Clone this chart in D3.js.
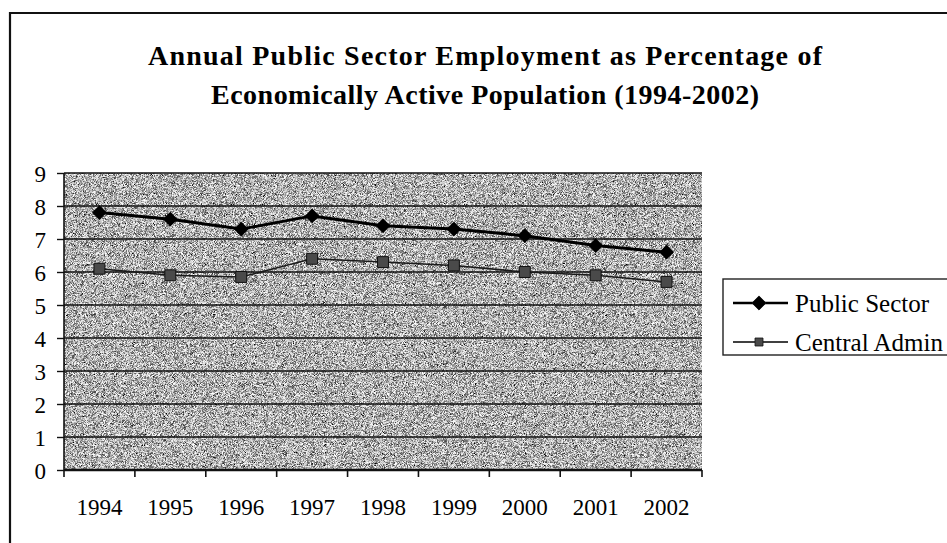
<!DOCTYPE html>
<html>
<head>
<meta charset="utf-8">
<script src="https://cdn.jsdelivr.net/npm/d3@7"></script>
<style>
  body { margin: 0; background: #fff; }
  svg text { font-family: "Liberation Serif", "Times New Roman", serif; fill: #000; }
</style>
</head>
<body>
<div id="chartDiv"></div>
<script>
// data
var years = ["1994", "1995", "1996", "1997", "1998", "1999", "2000", "2001", "2002"];
var publicSector = [7.8, 7.6, 7.3, 7.7, 7.4, 7.3, 7.1, 6.8, 6.6];
var centralAdmin = [6.1, 5.9, 5.85, 6.4, 6.3, 6.2, 6.0, 5.9, 5.7];
var yTicks = [0, 1, 2, 3, 4, 5, 6, 7, 8, 9];
var seriesNames = ["Public Sector", "Central Admin"];
var titleLines = ["Annual Public Sector Employment as Percentage of",
                  "Economically Active Population (1994-2002)"];

var W = 947, H = 543;
var plot = {left: 64, right: 702, top: 173, bottom: 470};

var svg = d3.select("#chartDiv").append("svg")
    .attr("width", W)
    .attr("height", H);

// speckle texture for the grey plot area
var defs = svg.append("defs");
var f = defs.append("filter").attr("id", "grain")
    .attr("x", 0).attr("y", 0).attr("width", 1).attr("height", 1);
f.append("feTurbulence")
    .attr("type", "fractalNoise")
    .attr("baseFrequency", 1.9)
    .attr("numOctaves", 1)
    .attr("seed", 5)
    .attr("result", "noise");
f.append("feColorMatrix")
    .attr("in", "noise")
    .attr("type", "matrix")
    .attr("values", "0 0 0 0 1  0 0 0 0 1  0 0 0 0 1  -3.2 0 0 0 1.85")
    .attr("result", "light");
f.append("feColorMatrix")
    .attr("in", "noise")
    .attr("type", "matrix")
    .attr("values", "0 0 0 0 0  0 0 0 0 0  0 0 0 0 0  3.2 0 0 0 -1.45")
    .attr("result", "dark");
f.append("feMerge").call(function(m) {
    m.append("feMergeNode").attr("in", "SourceGraphic");
    m.append("feMergeNode").attr("in", "light");
    m.append("feMergeNode").attr("in", "dark");
}).attr("result", "all");
f.append("feComposite").attr("in", "all").attr("in2", "SourceGraphic").attr("operator", "in");

// outer frame (top and left edges visible in the scan)
svg.append("path")
    .attr("d", "M10," + H + "V13H" + W)
    .attr("fill", "none")
    .attr("stroke", "#111")
    .attr("stroke-width", 2.2);

// title
var titleW = [674, 548];
svg.append("g").selectAll("text")
    .data(titleLines)
    .enter().append("text")
    .attr("x", 485)
    .attr("y", function(d, i) { return 65 + i * 39; })
    .attr("text-anchor", "middle")
    .attr("textLength", function(d, i) { return titleW[i]; })
    .attr("lengthAdjust", "spacing")
    .style("font-size", "28px")
    .style("font-weight", "bold")
    .text(function(d) { return d; });

var x = d3.scaleBand().domain(years).range([plot.left, plot.right]);
var y = d3.scaleLinear().domain([0, 9]).range([plot.bottom, plot.top]);

// plot background
svg.append("rect")
    .attr("x", plot.left)
    .attr("y", plot.top)
    .attr("width", plot.right - plot.left)
    .attr("height", plot.bottom - plot.top)
    .attr("fill", "#a2a2a2")
    .attr("filter", "url(#grain)");

// gridlines
svg.append("g").selectAll("line")
    .data(yTicks.slice(1))
    .enter().append("line")
    .attr("x1", plot.left)
    .attr("x2", plot.right)
    .attr("y1", function(d) { return y(d); })
    .attr("y2", function(d) { return y(d); })
    .attr("stroke", "#111")
    .attr("stroke-width", 1.4);

// y axis
var yAxis = d3.axisLeft(y).tickValues(yTicks).tickSize(7).tickPadding(11).tickFormat(d3.format("d"));
var gy = svg.append("g")
    .attr("transform", "translate(" + plot.left + ",0)")
    .call(yAxis);
gy.select(".domain").attr("stroke", "#111").attr("stroke-width", 1.6).attr("d", "M0," + plot.top + "V" + plot.bottom);
gy.selectAll(".tick line").attr("stroke", "#111").attr("stroke-width", 1.4);
gy.selectAll(".tick text")
    .style("font-size", "23px")
    .style("font-family", "'Liberation Serif', serif")
    .attr("dy", "0.35em");

// x axis - ticks on category boundaries like Excel
var xAxis = d3.axisBottom(x).tickSize(0).tickPadding(29);
var gx = svg.append("g")
    .attr("transform", "translate(0," + plot.bottom + ")")
    .call(xAxis);
gx.select(".domain").attr("stroke", "#111").attr("stroke-width", 2.4).attr("d", "M" + plot.left + ",0H" + plot.right);
gx.selectAll(".tick text")
    .style("font-size", "23px")
    .style("font-family", "'Liberation Serif', serif");
gx.selectAll(".bnd")
    .data(d3.range(years.length + 1))
    .enter().append("line")
    .attr("class", "bnd")
    .attr("x1", function(i) { return plot.left + i * x.step(); })
    .attr("x2", function(i) { return plot.left + i * x.step(); })
    .attr("y1", 0)
    .attr("y2", 7)
    .attr("stroke", "#111")
    .attr("stroke-width", 1.6);

var cx = function(d, i) { return x(years[i]) + x.bandwidth() / 2; };

var line = d3.line()
    .x(function(d, i) { return cx(d, i); })
    .y(function(d) { return y(d); });

// Central Admin
svg.append("path")
    .datum(centralAdmin)
    .attr("fill", "none")
    .attr("stroke", "#1a1a1a")
    .attr("stroke-width", 1.5)
    .attr("d", line);
svg.append("g").selectAll("path")
    .data(centralAdmin)
    .enter().append("path")
    .attr("transform", function(d, i) { return "translate(" + cx(d, i) + "," + y(d) + ")"; })
    .attr("d", d3.symbol(d3.symbolSquare, 120))
    .attr("fill", "#4a4a4a")
    .attr("stroke", "#111")
    .attr("stroke-width", 1);

// Public Sector
svg.append("path")
    .datum(publicSector)
    .attr("fill", "none")
    .attr("stroke", "#000")
    .attr("stroke-width", 3)
    .attr("d", line);
svg.append("g").selectAll("path")
    .data(publicSector)
    .enter().append("path")
    .attr("transform", function(d, i) { return "translate(" + cx(d, i) + "," + y(d) + ") rotate(45)"; })
    .attr("d", d3.symbol(d3.symbolSquare, 110))
    .attr("fill", "#000");

// legend
var lg = svg.append("g").attr("transform", "translate(723,279)");
lg.append("rect")
    .attr("width", W - 723 + 5)
    .attr("height", 76)
    .attr("fill", "#fff")
    .attr("stroke", "#222")
    .attr("stroke-width", 1.4);
var rows = lg.selectAll(".row")
    .data(seriesNames)
    .enter().append("g")
    .attr("class", "row")
    .attr("transform", function(d, i) { return "translate(0," + (24 + i * 39) + ")"; });
rows.append("line")
    .attr("x1", 10).attr("x2", 65)
    .attr("stroke", "#000")
    .attr("stroke-width", function(d, i) { return i === 0 ? 2.4 : 1.4; });
rows.append("path")
    .attr("transform", function(d, i) { return "translate(36,0)" + (i === 0 ? " rotate(45)" : ""); })
    .attr("d", function(d, i) { return d3.symbol(d3.symbolSquare, i === 0 ? 100 : 64)(); })
    .attr("fill", function(d, i) { return i === 0 ? "#000" : "#4a4a4a"; })
    .attr("stroke", "#111")
    .attr("stroke-width", 0.8);
rows.append("text")
    .attr("x", 72)
    .attr("dy", "0.35em")
    .style("font-size", "25px")
    .text(function(d) { return d; });
</script>
</body>
</html>
